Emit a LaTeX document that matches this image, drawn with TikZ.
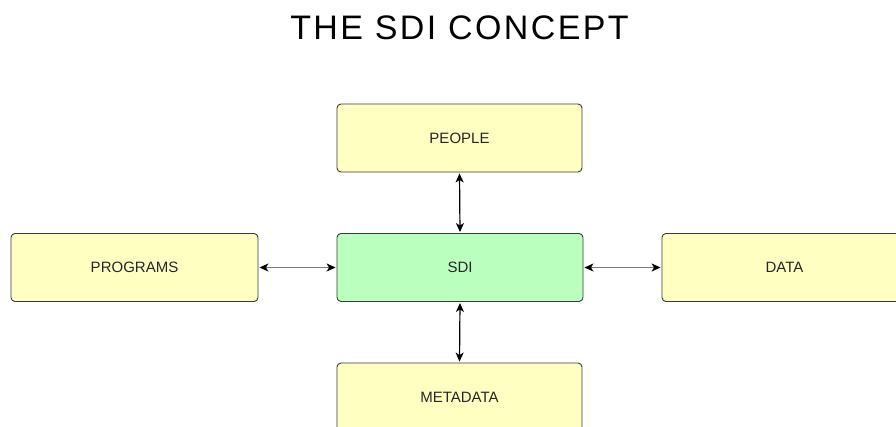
\documentclass[tikz,border=0pt]{standalone}
\usepackage{fontspec}
\setmainfont{Liberation Sans}
\usetikzlibrary{arrows.meta}
\definecolor{boxyellow}{HTML}{FFFFC2}
\definecolor{boxgreen}{HTML}{BBFFBF}
\definecolor{boxedge}{HTML}{3A3A3A}
\definecolor{linkgray}{HTML}{7A7A7A}
\tikzset{
  conceptbox/.style={draw=boxedge, line width=0.9pt, rounded corners=4pt,
    fill=boxyellow, minimum width=245pt, minimum height=68pt,
    inner sep=0pt, font=\fontsize{15}{18}\selectfont, text=black!85},
  hubbox/.style={conceptbox, fill=boxgreen},
  link/.style={line width=1.2pt, <->,
    >={Stealth[length=9pt,width=8pt,inset=2.5pt,color=black]},
    shorten <=1pt, shorten >=1pt},
}
\begin{document}
\begin{tikzpicture}[x=1pt,y=-1pt]
  \useasboundingbox (0,0) rectangle (896,427);
  \clip (0,0) rectangle (896,427);
  \node (title) at (459.5,28) {\fontsize{34}{36}\selectfont\addfontfeatures{LetterSpace=7}THE SDI CONCEPT};
  \node[conceptbox] (people) at (459.5,138) {PEOPLE};
  \node[conceptbox, minimum width=247pt] (programs) at (134.5,267.5) {PROGRAMS};
  \node[hubbox, minimum width=246pt] (sdi) at (460,267.5) {SDI};
  \node[conceptbox] (data) at (784.5,267.5) {DATA};
  \node[conceptbox] (meta) at (459.5,397) {METADATA};
  \draw[link, draw=black] (sdi.north) -- (people.south);
  \draw[link, draw=black] (sdi.south) -- (meta.north);
  \draw[link, draw=linkgray] (programs.east) -- (sdi.west);
  \draw[link, draw=linkgray] (sdi.east) -- (data.west);
\end{tikzpicture}
\end{document}
